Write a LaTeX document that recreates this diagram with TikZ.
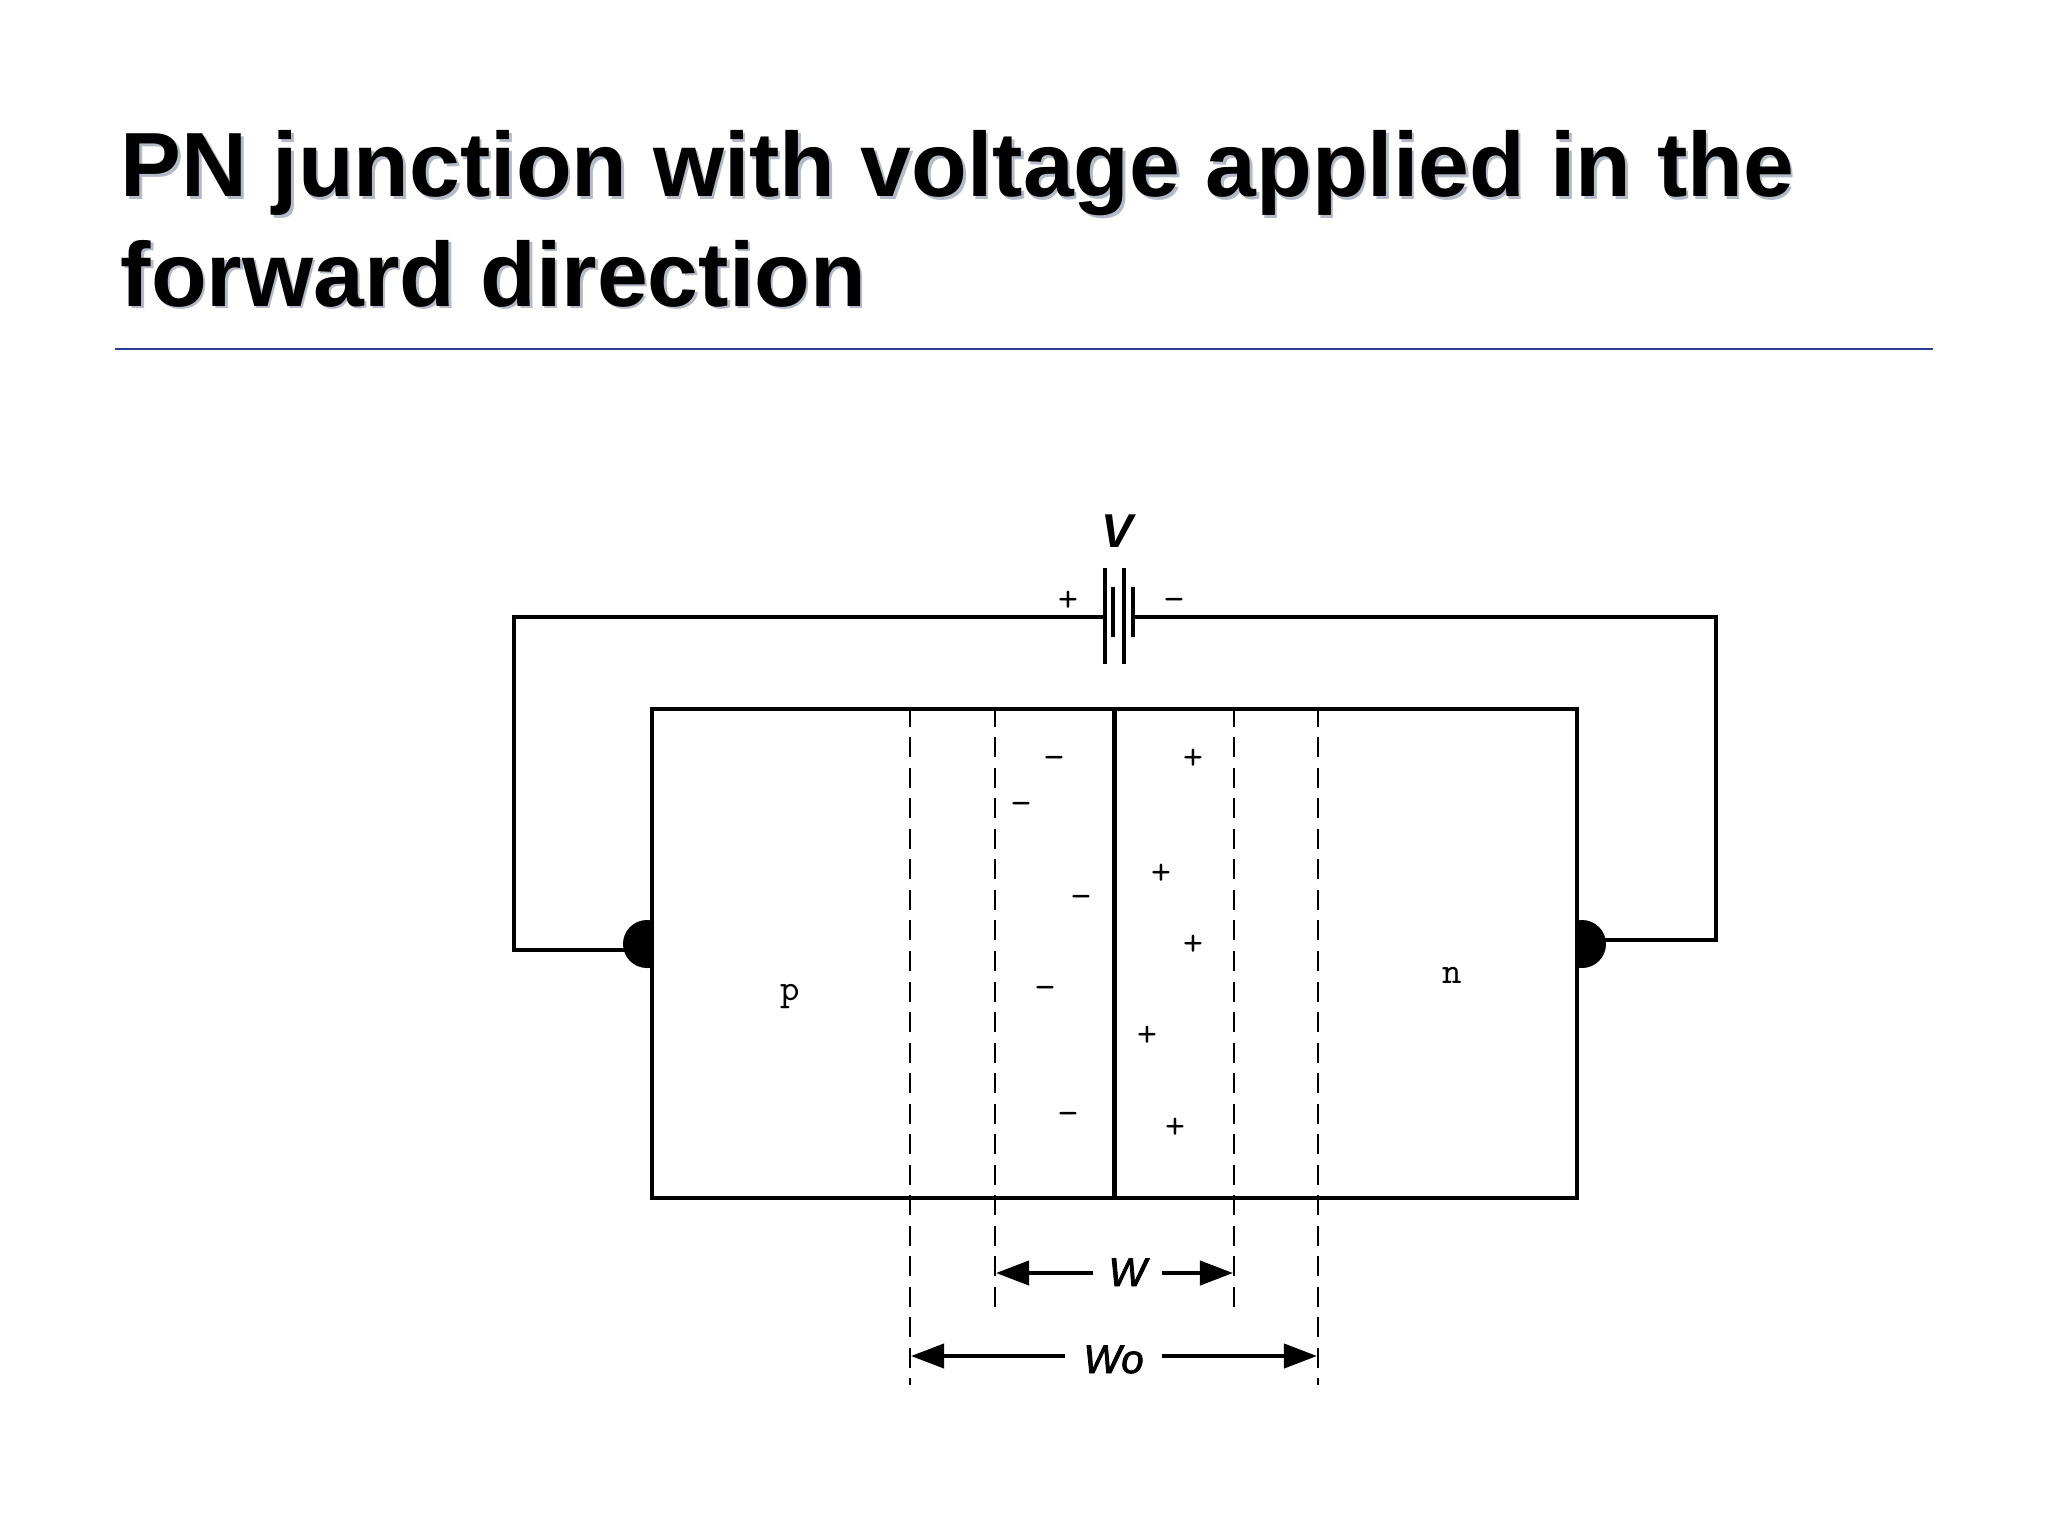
\documentclass[tikz,border=0pt]{standalone}
\usepackage{fontspec}
\setmainfont{Liberation Sans}
\newfontfamily\dimfont[FakeBold=2]{Liberation Sans Italic}
\usetikzlibrary{arrows.meta}
\definecolor{rulecol}{HTML}{2A3F8F}
\definecolor{shadowcol}{HTML}{B4BAC6}
\tikzset{
  wire/.style = {line width=1pt, line join=miter},
  plate/.style = {fill=black, inner sep=0pt, minimum width=0.042cm},
  contact/.style = {circle, fill=black, inner sep=0pt, minimum size=0.48cm},
  dashline/.style = {line width=0.6pt, dash pattern=on 0.2cm off 0.105cm},
  dimarrow/.style = {line width=1.15pt, -{Triangle[length=0.33cm,width=0.24cm]}, shorten >=0.01cm},
  sign/.style = {font=\ttfamily\fontsize{11pt}{12pt}\selectfont, inner sep=0pt, text height=0.23cm, text depth=0pt},
  slab/.style = {font=\ttfamily\fontsize{10.5pt}{12pt}\selectfont, inner sep=0pt},
  dimlabel/.style = {font=\dimfont\fontsize{11.4pt}{13pt}\selectfont, inner sep=0pt},
  titletext/.style = {anchor=north west, inner sep=0pt, align=left, font=\bfseries\fontsize{25.95pt}{31.1pt}\selectfont},
}
\begin{document}
\begin{tikzpicture}[x=0.01cm, y=-0.01cm]
    \useasboundingbox (0,0) rectangle (2048,1536);
    % title
    \node[titletext, shadowcol] (titleshadow) at (122.5,132.5)
        {PN junction with voltage applied in the\\forward direction};
    \node[titletext] (title) at (120,130)
        {PN junction with voltage applied in the\\forward direction};
    \coordinate (rulel) at (115,349);
    \coordinate (ruler) at (1933,349);
    \draw[rulecol, line width=0.6pt] (rulel) -- (ruler);
    % battery
    \node[plate, minimum height=0.96cm] (cella) at (1105,616) {};
    \node[plate, minimum height=0.50cm] (cellb) at (1113,612) {};
    \node[plate, minimum height=0.96cm] (cellc) at (1124,616) {};
    \node[plate, minimum height=0.50cm] (celld) at (1133,612) {};
    \node[font=\bfseries\itshape\fontsize{13.5pt}{15pt}\selectfont, inner sep=0pt] (vlabel) at (1117,531) {V};
    \node[sign] (vplus) at (1068,600) {+};
    \node[sign] (vminus) at (1174,600) {−};
    % contacts and wires
    \coordinate (pwire) at (640,950);
    \coordinate (nwire) at (1590,940);
    \node[contact] (pcontact) at (647,944) {};
    \node[contact] (ncontact) at (1582,944) {};
    \coordinate (lefttop) at (514,617);
    \coordinate (leftbot) at (514,950);
    \coordinate (righttop) at (1716,617);
    \coordinate (rightbot) at (1716,940);
    \draw[wire] (cella.center |- lefttop) -- (lefttop) -- (leftbot) -- (pwire);
    \draw[wire] (celld.center |- righttop) -- (righttop) -- (rightbot) -- (nwire);
    % junction block
    \node[draw, fill=white, line width=1.15pt, minimum width=9.247cm, minimum height=4.89cm] (pn) at (1114.6,953.5) {};
    \draw[line width=1.25pt] (pn.north) -- (pn.south);
    \node[slab] (pside) at (790,997) {p};
    \node[slab] (nside) at (1452,975) {n};
    % depletion edges
    \coordinate (wol) at (910,1385);
    \coordinate (wl) at (995,1308);
    \coordinate (wr) at (1234,1308);
    \coordinate (wor) at (1318,1385);
    \foreach \e in {wol,wl,wr,wor}
        \draw[dashline] (pn.north -| \e) -- (\e);
    % fixed charges
    \foreach \x/\y [count=\i] in {1054/758,1021/804,1081/897,1045/988,1068/1114}
        \node[sign] (minus\i) at (\x,\y) {−};
    \foreach \x/\y [count=\i] in {1193/758,1161/873,1193/944,1147/1035,1175/1127}
        \node[sign] (plus\i) at (\x,\y) {+};
    % widths
    \node[dimlabel, minimum width=0.67cm, text height=0.26cm, text depth=0pt] (w) at (1127.5,1273) {W};
    \node[dimlabel, minimum width=0.95cm, text height=0.34cm, text depth=0pt] (wo) at (1113.5,1356) {Wo};
    \draw[dimarrow] (w) -- (w -| wl);
    \draw[dimarrow] (w) -- (w -| wr);
    \draw[dimarrow] (wo) -- (wo -| wol);
    \draw[dimarrow] (wo) -- (wo -| wor);
\end{tikzpicture}
\end{document}
